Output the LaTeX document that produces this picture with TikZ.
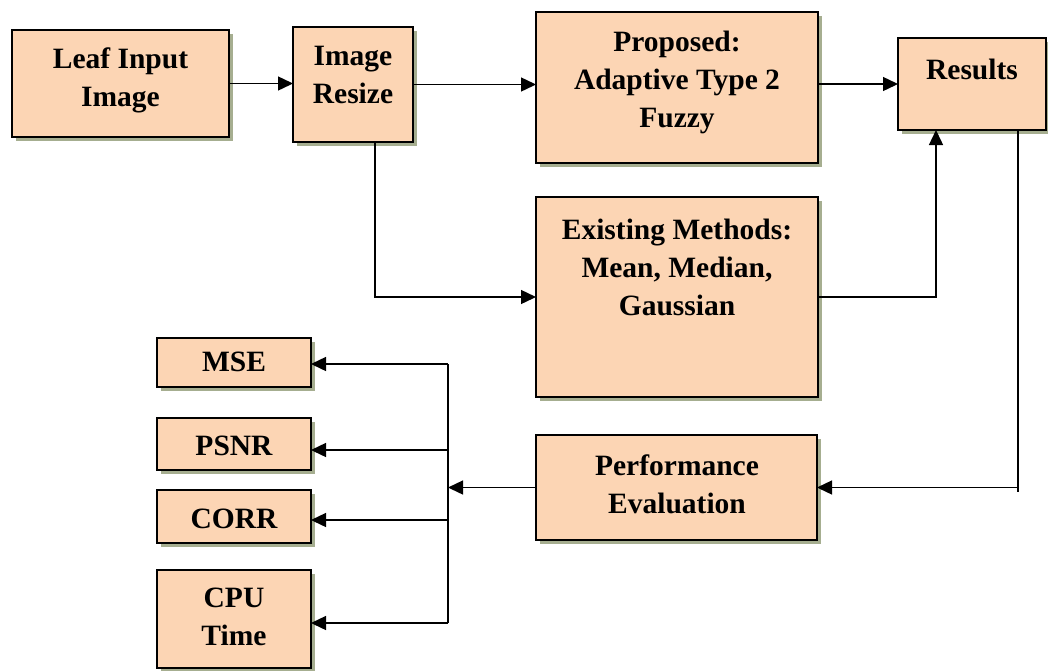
\documentclass[tikz,border=0pt]{standalone}
\usepackage{fontspec}
\setmainfont{Liberation Serif}
\usetikzlibrary{arrows.meta,shadows}
\definecolor{peach}{RGB}{252,213,180}
\definecolor{shade}{RGB}{150,160,125}
\begin{document}
\begin{tikzpicture}[x=1pt,y=-1pt,
  box/.style={draw=black,line width=2pt,fill=peach,inner sep=0pt,outer sep=0pt,
    drop shadow={shadow xshift=4pt,shadow yshift=-4pt,fill=shade,opacity=0.85}},
  txt/.style={align=center,font=\fontsize{29.5}{38}\selectfont\bfseries,inner sep=0pt},
  arr/.style={line width=1.4pt,-{Triangle[length=15pt,width=14pt]}},
  ln/.style={line width=1.4pt}]
\useasboundingbox (0,0) rectangle (1048,670);
% boxes
\node[box,minimum width=217pt,minimum height=107pt] (leaf) at (120.5,83.5) {};
\node[box,minimum width=120pt,minimum height=115pt] (resize) at (353,84.5) {};
\node[box,minimum width=282pt,minimum height=151pt] (prop) at (677,87.5) {};
\node[box,minimum width=148pt,minimum height=92pt] (res) at (972,84) {};
\node[box,minimum width=282pt,minimum height=200pt] (exist) at (677,297) {};
\node[box,minimum width=281pt,minimum height=105pt] (perf) at (676.5,487.5) {};
\node[box,minimum width=154pt,minimum height=49pt] (mse) at (234,362.5) {};
\node[box,minimum width=154pt,minimum height=52pt] (psnr) at (234,444) {};
\node[box,minimum width=154pt,minimum height=53pt] (corr) at (234,516.5) {};
\node[box,minimum width=154pt,minimum height=98pt] (cpu) at (234,619) {};
% texts
\node[txt] (leaf-t) at (120.5,80) {Leaf Input\\Image};
\node[txt] (resize-t) at (353,75) {Image\\Resize};
\node[txt] (prop-t) at (677,82) {Proposed:\\Adaptive Type 2\\Fuzzy};
\node[txt] (res-t) at (972,69) {Results};
\node[txt] (exist-t) at (677,267) {Existing Methods:\\Mean, Median,\\Gaussian};
\node[txt] (perf-t) at (677,484) {Performance\\Evaluation};
\node[txt] (mse-t) at (234,362) {MSE};
\node[txt] (psnr-t) at (234,446) {PSNR};
\node[txt] (corr-t) at (234,519) {CORR};
\node[txt] (cpu-t) at (234,617) {CPU\\Time};
% bus coordinates
\coordinate (busT) at (448,364);
\coordinate (busB) at (448,623);
% connectors
\draw[arr] (leaf.east) -- (resize.west |- leaf.east);
\draw[arr] (resize.east) -- (prop.west |- resize.east);
\draw[arr] (prop.east |- res.west) -- (res.west);
\draw[arr] ([xshift=22pt]resize.south) |- (exist.west);
\draw[arr] (exist.east) -| ([xshift=-36pt]res.south);
\draw[arr] ([xshift=46pt]res.south) |- (perf.east);
\draw[ln] ([xshift=46pt]res.south |- perf.east) -- ++(0,4);
\draw[ln] (busT) -- (busB);
\draw[arr] (perf.west) -- (perf.west -| busT);
\draw[arr] (busT) -- (busT -| mse.east);
\draw[arr] (busT |- 0,450) -- (psnr.east |- 0,450);
\draw[arr] (busT |- 0,520) -- (corr.east |- 0,520);
\draw[arr] (busB) -- (busB -| cpu.east);
\end{tikzpicture}
\end{document}
